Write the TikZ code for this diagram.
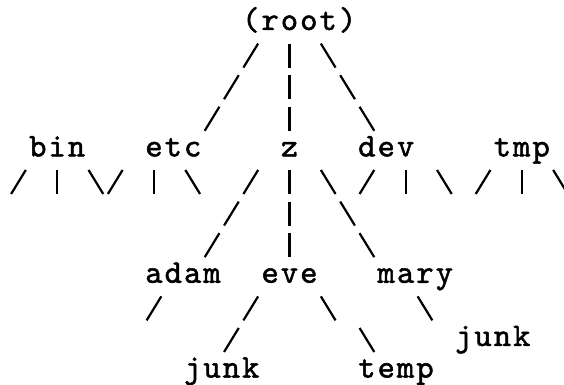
\documentclass[tikz,border=0pt]{standalone}
\usepackage{fontspec}
\usetikzlibrary{calc}
\newfontfamily\asciifont{lmmono10-regular.otf}[LetterSpace=6.2,FakeBold=1.5]

\begin{document}
\begin{tikzpicture}[x=19.36pt, y=-31.6pt,
    word/.style={inner sep=0pt, font=\asciifont\fontsize{33}{36}\selectfont,
        text height=23pt, text depth=11pt},
    bar/.style={line width=2.2pt, dash pattern=on 24pt off 7.6pt,
        shorten <=19.6pt, shorten >=19.6pt},
    slant/.style={line width=2.2pt, dash pattern=on 28.15pt off 8.91pt,
        shorten <=22.98pt, shorten >=22.98pt}]
    \useasboundingbox (0.0465,-0.759) rectangle (29.18,11.42);

    \node[word] (root) at (15.5,0) {(root)};
    \node[word] (bin) at (3,4) {bin};
    \node[word] (etc) at (9,4) {etc};
    \node[word] (z) at (15,4) {z};
    \node[word] (dev) at (20,4) {dev};
    \node[word] (tmp) at (27,4) {tmp};
    \node[word] (adam) at (9.5,8) {adam};
    \node[word] (eve) at (15,8) {eve};
    \node[word] (mary) at (21.5,8) {mary};
    \node[word] (evejunk) at (11.5,11) {junk};
    \node[word] (temp) at (20.5,11) {temp};
    \node[word] (maryjunk) at (25.5,10) {junk};

    \draw[slant] ($(root)+(-1.5,0)$) -- ($(etc)+(1,0)$);
    \draw[bar] ($(root)+(-0.5,0)$) -- (z.center);
    \draw[slant] ($(root)+(0.5,0)$) -- (dev.center);

    % children of bin, etc, dev, tmp
    \draw[slant] ($(bin)+(-1,0)$) -- +(-2,2);
    \draw[bar] (bin.center) -- +(0,2);
    \draw[slant] ($(bin)+(1,0)$) -- +(2,2);
    \draw[slant] ($(etc)+(-2,0)$) -- +(-2,2);
    \draw[bar] ($(etc)+(-1,0)$) -- +(0,2);
    \draw[slant] (etc.center) -- +(2,2);
    \draw[slant] (dev.center) -- +(-2,2);
    \draw[bar] ($(dev)+(1,0)$) -- +(0,2);
    \draw[slant] ($(dev)+(2,0)$) -- +(2,2);
    \draw[slant] ($(tmp)+(-1,0)$) -- +(-2,2);
    \draw[bar] (tmp.center) -- +(0,2);
    \draw[slant] ($(tmp)+(1,0)$) -- +(2,2);

    \draw[slant] ($(z)+(-1,0)$) -- ($(adam)+(0.5,0)$);
    \draw[bar] (z.center) -- (eve.center);
    \draw[slant] ($(z)+(1,0)$) -- ($(mary)+(-1.5,0)$);

    \draw[slant] ($(adam)+(-0.5,0)$) -- +(-2,2);
    \draw[slant] ($(eve)+(-1,0)$) -- ($(evejunk)+(-0.5,0)$);
    \draw[slant] ($(eve)+(1,0)$) -- +(2,2);
    \draw[slant] ($(temp)+(-2.5,-2)$) -- ($(temp)+(-0.5,0)$);
    \draw[slant] ($(mary)+(-0.5,0)$) -- +(2,2);
\end{tikzpicture}
\end{document}
